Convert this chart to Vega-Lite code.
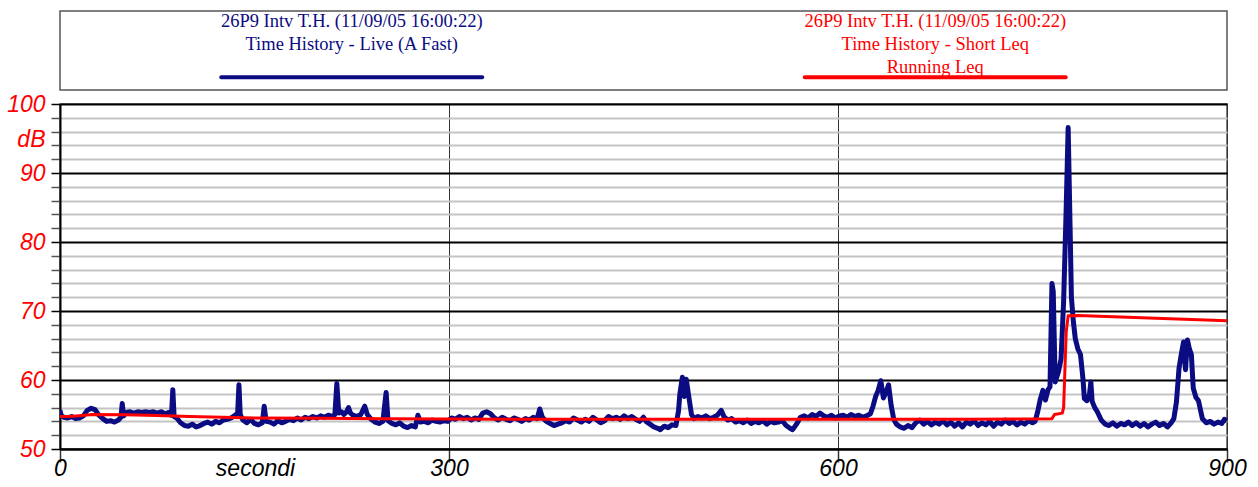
{
  "$schema": "https://vega.github.io/schema/vega-lite/v6.json",
  "padding": {"left": 5, "top": 10, "right": 5, "bottom": 5},
  "background": "white",
  "spacing": 14,
  "bounds": "flush",
  "config": {"font": "Liberation Sans"},
  "datasets": {
    "legend": [
      {"series": "Live", "text": ["26P9 Intv T.H. (11/09/05 16:00:22)", "Time History - Live (A Fast)"]},
      {"series": "Leq", "text": ["26P9 Intv T.H. (11/09/05 16:00:22)", "Time History - Short Leq", "Running Leq"]}
    ],
    "live": [
      {"t":0,"db":55.6},{"t":1,"db":54.8},{"t":3,"db":54.6},{"t":6,"db":54.5},{"t":9,"db":54.7},{"t":12,"db":54.4},{"t":15,"db":54.5},{"t":18,"db":54.8},{"t":21,"db":55.6},{"t":24,"db":55.9},{"t":27,"db":55.7},{"t":30,"db":54.9},{"t":33,"db":54.4},{"t":36,"db":54.0},{"t":39,"db":54.1},{"t":42,"db":53.9},{"t":45,"db":54.2},{"t":47,"db":54.6},{"t":48,"db":56.6},{"t":49,"db":54.8},{"t":51,"db":55.3},{"t":54,"db":55.4},{"t":57,"db":55.2},{"t":60,"db":55.4},{"t":63,"db":55.3},{"t":66,"db":55.4},{"t":69,"db":55.3},{"t":72,"db":55.4},{"t":75,"db":55.2},{"t":78,"db":55.4},{"t":81,"db":55.1},{"t":84,"db":55.3},{"t":86,"db":54.9},{"t":87,"db":58.6},{"t":88,"db":54.7},{"t":90,"db":54.5},{"t":93,"db":53.8},{"t":96,"db":53.4},{"t":99,"db":53.3},{"t":102,"db":53.6},{"t":105,"db":53.2},{"t":108,"db":53.4},{"t":111,"db":53.7},{"t":114,"db":53.9},{"t":117,"db":53.6},{"t":120,"db":54.0},{"t":123,"db":53.8},{"t":126,"db":54.2},{"t":129,"db":54.3},{"t":132,"db":54.5},{"t":135,"db":54.9},{"t":137,"db":55.2},{"t":138,"db":59.3},{"t":139,"db":55.0},{"t":141,"db":54.2},{"t":144,"db":53.8},{"t":147,"db":54.3},{"t":150,"db":53.7},{"t":153,"db":53.5},{"t":156,"db":53.8},{"t":157.5,"db":56.2},{"t":159,"db":54.0},{"t":162,"db":53.9},{"t":165,"db":53.6},{"t":168,"db":54.1},{"t":171,"db":53.8},{"t":174,"db":54.0},{"t":177,"db":54.3},{"t":180,"db":54.1},{"t":183,"db":54.5},{"t":186,"db":54.2},{"t":189,"db":54.6},{"t":192,"db":54.4},{"t":195,"db":54.7},{"t":198,"db":54.5},{"t":201,"db":54.8},{"t":204,"db":54.6},{"t":207,"db":54.9},{"t":210,"db":54.7},{"t":212,"db":55.0},{"t":213.5,"db":59.5},{"t":215,"db":55.2},{"t":217,"db":55.4},{"t":219,"db":55.0},{"t":221,"db":55.4},{"t":222.5,"db":56.0},{"t":224,"db":55.2},{"t":226,"db":54.9},{"t":229,"db":54.7},{"t":232,"db":55.0},{"t":235,"db":56.2},{"t":237,"db":55.0},{"t":240,"db":54.3},{"t":243,"db":53.9},{"t":246,"db":53.7},{"t":249,"db":54.0},{"t":251.5,"db":58.2},{"t":253,"db":54.1},{"t":256,"db":53.7},{"t":259,"db":53.5},{"t":262,"db":53.8},{"t":265,"db":53.3},{"t":268,"db":53.1},{"t":271,"db":53.4},{"t":274,"db":53.2},{"t":276,"db":54.9},{"t":278,"db":53.9},{"t":281,"db":54.0},{"t":284,"db":53.8},{"t":287,"db":54.2},{"t":290,"db":54.0},{"t":293,"db":53.9},{"t":296,"db":54.1},{"t":299,"db":54.0},{"t":302,"db":54.5},{"t":305,"db":54.3},{"t":308,"db":54.7},{"t":311,"db":54.4},{"t":314,"db":54.6},{"t":317,"db":54.2},{"t":320,"db":54.5},{"t":323,"db":54.3},{"t":326,"db":55.2},{"t":329,"db":55.4},{"t":332,"db":55.1},{"t":335,"db":54.5},{"t":338,"db":54.2},{"t":341,"db":54.6},{"t":344,"db":54.3},{"t":347,"db":54.1},{"t":350,"db":54.5},{"t":353,"db":54.3},{"t":356,"db":54.0},{"t":359,"db":54.4},{"t":362,"db":54.2},{"t":365,"db":54.6},{"t":368,"db":54.4},{"t":370,"db":55.8},{"t":372,"db":54.6},{"t":375,"db":54.0},{"t":378,"db":53.7},{"t":381,"db":53.4},{"t":384,"db":53.6},{"t":387,"db":53.8},{"t":390,"db":54.1},{"t":393,"db":53.9},{"t":396,"db":54.5},{"t":399,"db":54.2},{"t":402,"db":53.9},{"t":405,"db":54.3},{"t":408,"db":54.0},{"t":411,"db":54.6},{"t":414,"db":54.2},{"t":417,"db":53.8},{"t":420,"db":54.1},{"t":423,"db":54.7},{"t":426,"db":54.4},{"t":429,"db":54.6},{"t":432,"db":54.3},{"t":435,"db":54.8},{"t":438,"db":54.4},{"t":441,"db":54.7},{"t":444,"db":54.3},{"t":447,"db":54.0},{"t":450,"db":54.6},{"t":452,"db":54.0},{"t":455,"db":53.6},{"t":458,"db":53.2},{"t":461,"db":53.0},{"t":463,"db":52.8},{"t":466,"db":53.3},{"t":469,"db":53.1},{"t":472,"db":53.5},{"t":475,"db":53.4},{"t":477,"db":55.5},{"t":478,"db":57.9},{"t":480,"db":60.4},{"t":481.5,"db":57.6},{"t":483,"db":60.1},{"t":485,"db":57.5},{"t":487,"db":55.0},{"t":489,"db":54.4},{"t":492,"db":54.7},{"t":495,"db":54.5},{"t":498,"db":54.8},{"t":501,"db":54.4},{"t":504,"db":54.6},{"t":507,"db":54.9},{"t":510,"db":55.6},{"t":512,"db":54.7},{"t":515,"db":54.2},{"t":518,"db":54.4},{"t":521,"db":53.9},{"t":524,"db":54.1},{"t":527,"db":53.8},{"t":530,"db":54.2},{"t":533,"db":53.7},{"t":536,"db":54.0},{"t":539,"db":53.8},{"t":542,"db":54.1},{"t":545,"db":53.6},{"t":548,"db":54.0},{"t":551,"db":53.8},{"t":554,"db":53.9},{"t":557,"db":54.1},{"t":560,"db":53.4},{"t":563,"db":53.0},{"t":565,"db":52.8},{"t":568,"db":53.6},{"t":571,"db":54.6},{"t":574,"db":54.8},{"t":577,"db":54.5},{"t":580,"db":55.0},{"t":583,"db":54.7},{"t":586,"db":55.2},{"t":589,"db":54.8},{"t":592,"db":54.6},{"t":595,"db":54.9},{"t":598,"db":54.5},{"t":601,"db":54.8},{"t":604,"db":54.9},{"t":607,"db":54.6},{"t":610,"db":55.0},{"t":613,"db":54.7},{"t":616,"db":54.9},{"t":619,"db":54.6},{"t":622,"db":54.8},{"t":625,"db":55.1},{"t":627,"db":56.2},{"t":629,"db":57.6},{"t":631,"db":58.5},{"t":633,"db":59.9},{"t":635,"db":57.4},{"t":637,"db":58.2},{"t":639,"db":59.3},{"t":641,"db":56.3},{"t":643,"db":54.3},{"t":645,"db":53.6},{"t":648,"db":53.2},{"t":651,"db":53.0},{"t":654,"db":53.4},{"t":657,"db":53.1},{"t":660,"db":53.8},{"t":663,"db":54.2},{"t":666,"db":53.6},{"t":669,"db":54.0},{"t":672,"db":53.5},{"t":675,"db":53.9},{"t":678,"db":53.6},{"t":681,"db":54.1},{"t":684,"db":53.5},{"t":687,"db":53.9},{"t":690,"db":53.3},{"t":693,"db":53.8},{"t":696,"db":53.2},{"t":699,"db":53.9},{"t":702,"db":53.6},{"t":705,"db":54.1},{"t":708,"db":53.4},{"t":711,"db":53.8},{"t":714,"db":53.5},{"t":717,"db":54.0},{"t":720,"db":53.3},{"t":723,"db":53.9},{"t":726,"db":53.6},{"t":729,"db":54.2},{"t":732,"db":53.7},{"t":735,"db":54.0},{"t":738,"db":53.5},{"t":741,"db":53.9},{"t":744,"db":53.6},{"t":747,"db":54.1},{"t":750,"db":53.8},{"t":752,"db":54.0},{"t":754,"db":55.4},{"t":756,"db":57.2},{"t":758,"db":58.5},{"t":760,"db":57.1},{"t":762,"db":58.6},{"t":763.5,"db":59.0},{"t":765,"db":74.0},{"t":766,"db":72.8},{"t":767.5,"db":59.7},{"t":770,"db":61.2},{"t":772,"db":63.0},{"t":774,"db":71.4},{"t":776,"db":85.0},{"t":777.5,"db":96.6},{"t":779,"db":82.0},{"t":780,"db":72.0},{"t":781.5,"db":68.5},{"t":783,"db":66.0},{"t":785,"db":64.5},{"t":787,"db":63.7},{"t":789,"db":60.0},{"t":790,"db":57.3},{"t":792,"db":57.0},{"t":794,"db":58.0},{"t":795,"db":59.7},{"t":796,"db":56.9},{"t":798,"db":56.0},{"t":800,"db":55.4},{"t":803,"db":54.2},{"t":806,"db":53.6},{"t":809,"db":53.4},{"t":812,"db":53.8},{"t":815,"db":53.3},{"t":818,"db":53.7},{"t":821,"db":53.5},{"t":824,"db":53.9},{"t":827,"db":53.4},{"t":830,"db":53.8},{"t":833,"db":53.3},{"t":836,"db":53.7},{"t":839,"db":53.2},{"t":842,"db":53.6},{"t":845,"db":53.9},{"t":848,"db":53.4},{"t":851,"db":53.7},{"t":854,"db":53.2},{"t":857,"db":53.8},{"t":859,"db":54.4},{"t":861,"db":56.8},{"t":863,"db":61.7},{"t":865,"db":64.0},{"t":866.5,"db":65.5},{"t":868,"db":61.5},{"t":869.5,"db":65.8},{"t":871,"db":64.5},{"t":872.5,"db":63.7},{"t":874,"db":58.8},{"t":876,"db":57.5},{"t":878,"db":57.0},{"t":881,"db":54.4},{"t":884,"db":53.8},{"t":887,"db":54.0},{"t":890,"db":53.6},{"t":893,"db":53.9},{"t":896,"db":53.7},{"t":898,"db":54.3},{"t":900,"db":54.1}
    ],
    "leq": [
      {"t":0,"db":54.7},{"t":10,"db":54.75},{"t":25,"db":55.0},{"t":50,"db":54.95},{"t":75,"db":54.85},{"t":100,"db":54.7},{"t":150,"db":54.5},{"t":200,"db":54.45},{"t":250,"db":54.4},{"t":300,"db":54.35},{"t":400,"db":54.3},{"t":500,"db":54.3},{"t":600,"db":54.3},{"t":700,"db":54.3},{"t":765,"db":54.4},{"t":767,"db":55.0},{"t":773,"db":55.2},{"t":774,"db":56.0},{"t":776,"db":67.0},{"t":777.5,"db":69.3},{"t":785,"db":69.35},{"t":900,"db":68.6}
    ]
  },
  "vconcat": [
    {
      "width": 1167,
      "height": 79,
      "view": {"stroke": "#555555", "strokeWidth": 1.5, "fill": "white"},
      "data": {"name": "legend"},
      "encoding": {
        "x": {"field": "series", "type": "nominal", "scale": {"type": "point", "domain": ["Live", "Leq"], "padding": 0.5}, "axis": null},
        "color": {"field": "series", "type": "nominal", "scale": {"domain": ["Live", "Leq"], "range": ["#0b0b82", "#ff0000"]}, "legend": null}
      },
      "layer": [
        {"mark": {"type": "text", "font": "Liberation Serif", "fontSize": 18.5, "baseline": "top", "align": "center", "lineHeight": 23, "dy": -39}, "encoding": {"text": {"field": "text"}}},
        {"mark": {"type": "tick", "orient": "horizontal", "size": 265, "thickness": 4, "cornerRadius": 2, "opacity": 1, "yOffset": 26.8}}
      ]
    },
    {
      "width": 1167,
      "height": 345,
      "view": {"stroke": "#555555", "strokeWidth": 1.5},
      "layer": [
        {
          "data": {"name": "live"},
          "mark": {"type": "line", "color": "#0b0b82", "strokeWidth": 5, "strokeJoin": "round", "clip": true},
          "encoding": {
            "x": {"field": "t", "type": "quantitative", "scale": {"domain": [0, 900], "nice": false},
              "axis": {"values": [0, 300, 600, 900], "tickCount": 10, "title": "secondi", "titleFont": "Liberation Sans", "titleFontStyle": "italic", "titleFontWeight": "normal", "titleFontSize": 23, "titleColor": "black", "titleX": 195, "titleY": 19, "titleAlign": "center", "titleBaseline": "middle", "titleAnchor": null,
                "labelFont": "Liberation Sans", "labelFontStyle": "italic", "labelFontSize": 23, "labelColor": "black", "labelBaseline": "middle", "labelPadding": 6, "labelFlush": false, "labelOverlap": false,
                "tickSize": 13, "tickColor": "#333333", "tickWidth": 1.5, "domainColor": "black", "domainWidth": 2,
                "grid": true, "gridColor": "#333333", "gridWidth": 1}},
            "y": {"field": "db", "type": "quantitative", "scale": {"domain": [50, 100], "nice": false, "zero": false},
              "axis": {"values": [50,52,54,56,58,60,62,64,66,68,70,72,74,76,78,80,82,84,86,88,90,92,94,96,98,100], "tickCount": 30,
                "labelExpr": "datum.value % 10 == 0 ? datum.label : ''", "labelOverlap": false, "labelBound": false,
                "title": "dB", "titleAngle": 0, "titleX": -15, "titleY": 35, "titleAlign": "right", "titleBaseline": "middle", "titleAnchor": null, "titleFont": "Liberation Sans", "titleFontStyle": "italic", "titleFontWeight": "normal", "titleFontSize": 23, "titleColor": "#ff0000",
                "labelFont": "Liberation Sans", "labelFontStyle": "italic", "labelFontSize": 23, "labelColor": "#ff0000", "labelPadding": 6,
                "tickSize": 9, "tickColor": {"condition": {"test": "datum.value % 10 == 0", "value": "black"}, "value": "#555555"}, "tickWidth": 1.5,
                "domainColor": "black", "domainWidth": 2,
                "grid": true, "gridColor": {"condition": {"test": "datum.value % 10 == 0", "value": "black"}, "value": "#c4c4c4"}, "gridWidth": 2}}
          }
        },
        {
          "data": {"name": "leq"},
          "mark": {"type": "line", "color": "#ff0000", "strokeWidth": 3, "strokeJoin": "round"},
          "encoding": {
            "x": {"field": "t", "type": "quantitative"},
            "y": {"field": "db", "type": "quantitative"}
          }
        }
      ]
    }
  ]
}
